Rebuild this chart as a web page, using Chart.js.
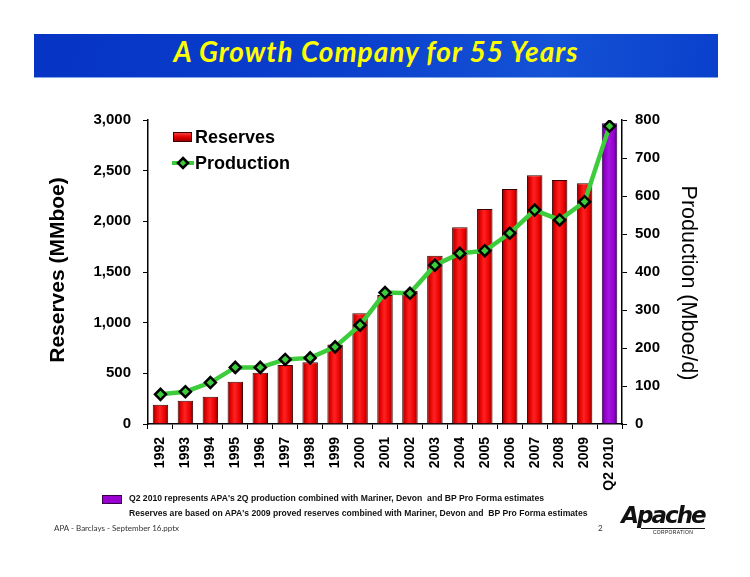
<!DOCTYPE html>
<html>
<head>
<meta charset="utf-8">
<script src="https://cdn.jsdelivr.net/npm/chart.js@4/dist/chart.umd.min.js"></script>
<style>
  html, body { margin: 0; padding: 0; background: #fff; }
  #wrap { position: relative; width: 750px; height: 577px; overflow: hidden; }
  #chart-box { position: absolute; left: 0; top: 0; width: 750px; height: 577px; }
  .banner {
    position: absolute; left: 34px; top: 34px; width: 684px; height: 43px;
    background: linear-gradient(100deg, #0634c4 0%, #0a3fcc 45%, #1452d6 75%, #0a40cc 100%);
    border-bottom: 1px solid #7fa6e6;
  }
  .banner h1 {
    margin: 0; line-height: 43px; text-align: center; color: #ffff00;
    font: italic bold 28px Lato, "Open Sans", sans-serif; letter-spacing: 1px;
  }
  .note { position: absolute; left: 129px; font: bold 8.6px "Liberation Sans", Arial, sans-serif; color: #111; white-space: pre; }
  .swatch { position: absolute; left: 102px; top: 495px; width: 18px; height: 7px; background: #9a00d0; border: 1px solid #3a0050; }
  .foot { position: absolute; top: 523px; font: 8px Lato, "Open Sans", sans-serif; color: #333; }
  .logo { position: absolute; left: 621px; top: 503px; width: 84px; color: #111; text-align: center; }
  .logo .name { font: italic 900 23px "DejaVu Sans", sans-serif; letter-spacing: -2px; line-height: 25px; }
  .logo .corp { font: 5px "Liberation Sans", Arial, sans-serif; letter-spacing: 0.3px; margin-left: 20px; border-top: 1px solid #111; line-height: 6px; }
</style>
</head>
<body>
<div id="wrap">
  <div id="chart-box"><canvas id="chart"></canvas></div>
  <div class="banner"><h1>A Growth Company for 55 Years</h1></div>
  <div class="swatch"></div>
  <div class="note" style="top:493px">Q2 2010 represents APA's 2Q production combined with Mariner, Devon  and BP Pro Forma estimates</div>
  <div class="note" style="top:508px">Reserves are based on APA's 2009 proved reserves combined with Mariner, Devon and  BP Pro Forma estimates</div>
  <div class="foot" style="left:54px">APA - Barclays - September 16.pptx</div>
  <div class="foot" style="left:598px">2</div>
  <div class="logo"><div class="name">Apache</div><div class="corp">CORPORATION</div></div>
</div>
<script>
const years = ["1992", "1993", "1994", "1995", "1996", "1997", "1998", "1999", "2000", "2001",
  "2002", "2003", "2004", "2005", "2006", "2007", "2008", "2009", "Q2 2010"];
// MMboe, left axis
const reserves = [190, 230, 270, 418, 506, 582, 609, 785, 1092, 1273,
  1316, 1661, 1941, 2122, 2319, 2454, 2408, 2375, 2967];
// Mboe/d, right axis
const production = [78, 85, 109, 149, 149, 170, 174, 203, 260, 346,
  344, 418, 449, 456, 502, 563, 537, 585, 784];
const reserveTicks = [0, 500, 1000, 1500, 2000, 2500, 3000];
const productionTicks = [0, 100, 200, 300, 400, 500, 600, 700, 800];

const FONT = '"Liberation Sans", Arial, sans-serif';
const RED = ["#8c0000", "#e00000", "#ff2222", "#e80000", "#7a0000"];
const PURPLE = ["#560080", "#9000c8", "#a614e0", "#9400cc", "#4e0074"];
const GREEN = "#3ccc3c";

// horizontal shading per bar so they keep the slide's rounded 3D look
function barFill(ctx) {
  const chart = ctx.chart;
  const last = ctx.dataIndex === years.length - 1;
  const stops = last ? PURPLE : RED;
  if (ctx.type !== "data" || !chart.chartArea) return stops[2];
  const cx = chart.scales.x.getPixelForValue(ctx.dataIndex);
  const half = chart.scales.x.width / years.length * 0.3;
  const g = chart.ctx.createLinearGradient(cx - half, 0, cx + half, 0);
  [0, 0.18, 0.45, 0.8, 1].forEach((s, i) => g.addColorStop(s, stops[i]));
  return g;
}

function drawDiamond(c, x, y, r) {
  c.beginPath();
  c.moveTo(x, y - r); c.lineTo(x + r, y); c.lineTo(x, y + r); c.lineTo(x - r, y); c.closePath();
  c.fillStyle = GREEN; c.fill();
  c.lineWidth = 2.5; c.strokeStyle = "#000"; c.stroke();
}

const legendInArea = {
  id: "legendInArea",
  afterDatasetsDraw(chart) {
    const c = chart.ctx;
    const { left, top } = chart.chartArea;
    const x = left + 25, y1 = top + 17, y2 = top + 43;
    c.save();
    const g = c.createLinearGradient(0, y1 - 5, 0, y1 + 5);
    g.addColorStop(0, "#ff5050"); g.addColorStop(0.5, "#e00000"); g.addColorStop(1, "#900000");
    c.fillStyle = g; c.fillRect(x, y1 - 5, 19, 10);
    c.lineWidth = 1; c.strokeStyle = "#400000"; c.strokeRect(x + 0.5, y1 - 4.5, 18, 9);
    c.strokeStyle = GREEN; c.lineWidth = 4;
    c.beginPath(); c.moveTo(x - 1, y2); c.lineTo(x + 21, y2); c.stroke();
    drawDiamond(c, x + 10, y2, 5);
    c.fillStyle = "#000"; c.font = "bold 18px " + FONT; c.textBaseline = "middle";
    c.fillText("Reserves", x + 22, y1 + 1);
    c.fillText("Production", x + 22, y2 + 1);
    c.restore();
  },
};

// axis titles sit a little off-centre on the slide, so they are placed by hand
const axisTitles = {
  id: "axisTitles",
  afterDraw(chart) {
    const c = chart.ctx;
    const { y, y1 } = chart.scales;
    c.save();
    c.fillStyle = "#000"; c.textAlign = "center"; c.textBaseline = "middle";
    c.translate(y.left + 38, (y.top + y.bottom) / 2 - 2);
    c.rotate(-Math.PI / 2);
    c.font = "bold 21px " + FONT;
    c.fillText("Reserves (MMboe)", 0, 0);
    c.restore();
    c.save();
    c.fillStyle = "#000"; c.textAlign = "center"; c.textBaseline = "middle";
    c.translate(y1.right - 52, (y1.top + y1.bottom) / 2 + 11);
    c.rotate(Math.PI / 2);
    c.font = "21.5px " + FONT;
    c.fillText("Production (Mboe/d)", 0, 0);
    c.restore();
  },
};

new Chart(document.getElementById("chart"), {
  data: {
    labels: years,
    datasets: [
      {
        type: "line",
        label: "Production",
        data: production,
        yAxisID: "y1",
        order: 0,
        borderColor: GREEN,
        borderWidth: 4.5,
        tension: 0,
        pointStyle: "rectRot",
        pointRadius: 5.5,
        pointBackgroundColor: GREEN,
        pointBorderColor: "#000",
        pointBorderWidth: 2.5,
      },
      {
        type: "bar",
        label: "Reserves",
        data: reserves,
        yAxisID: "y",
        order: 1,
        backgroundColor: barFill,
        borderColor: (ctx) => (ctx.dataIndex === years.length - 1 ? "#2e0044" : "#3a0000"),
        borderWidth: 1,
        barPercentage: 0.62,
        categoryPercentage: 1,
      },
    ],
  },
  options: {
    responsive: true,
    maintainAspectRatio: false,
    animation: false,
    layout: { padding: { left: 20, right: 10, top: 120, bottom: 20 } },
    plugins: { legend: { display: false }, tooltip: { enabled: false } },
    scales: {
      x: {
        afterFit: (s) => { s.height = 133; },
        grid: { display: true, drawOnChartArea: false, tickLength: 5, color: "#000", offset: true },
        border: { color: "#000", width: 1.5 },
        ticks: {
          color: "#000", font: { family: FONT, size: 14, weight: "bold" },
          minRotation: 90, maxRotation: 90, autoSkip: false, padding: 8,
        },
      },
      y: {
        position: "left",
        min: 0, max: 3000,
        afterFit: (s) => { s.width = 128; },
        afterBuildTicks: (s) => { s.ticks = reserveTicks.map((v) => ({ value: v })); },
        grid: { display: true, drawOnChartArea: false, tickLength: 5, color: "#000" },
        border: { color: "#000", width: 1.5 },
        ticks: {
          color: "#000", padding: 12, font: { family: FONT, size: 15, weight: "bold" },
          callback: (v) => v.toLocaleString("en-US"),
        },
      },
      y1: {
        position: "right",
        min: 0, max: 800,
        afterFit: (s) => { s.width = 118; },
        afterBuildTicks: (s) => { s.ticks = productionTicks.map((v) => ({ value: v })); },
        grid: { display: true, drawOnChartArea: false, tickLength: 5, color: "#000" },
        border: { color: "#000", width: 1.5 },
        ticks: { color: "#000", padding: 8, font: { family: FONT, size: 15, weight: "bold" } },
      },
    },
  },
  plugins: [legendInArea, axisTitles],
});
</script>
</body>
</html>
